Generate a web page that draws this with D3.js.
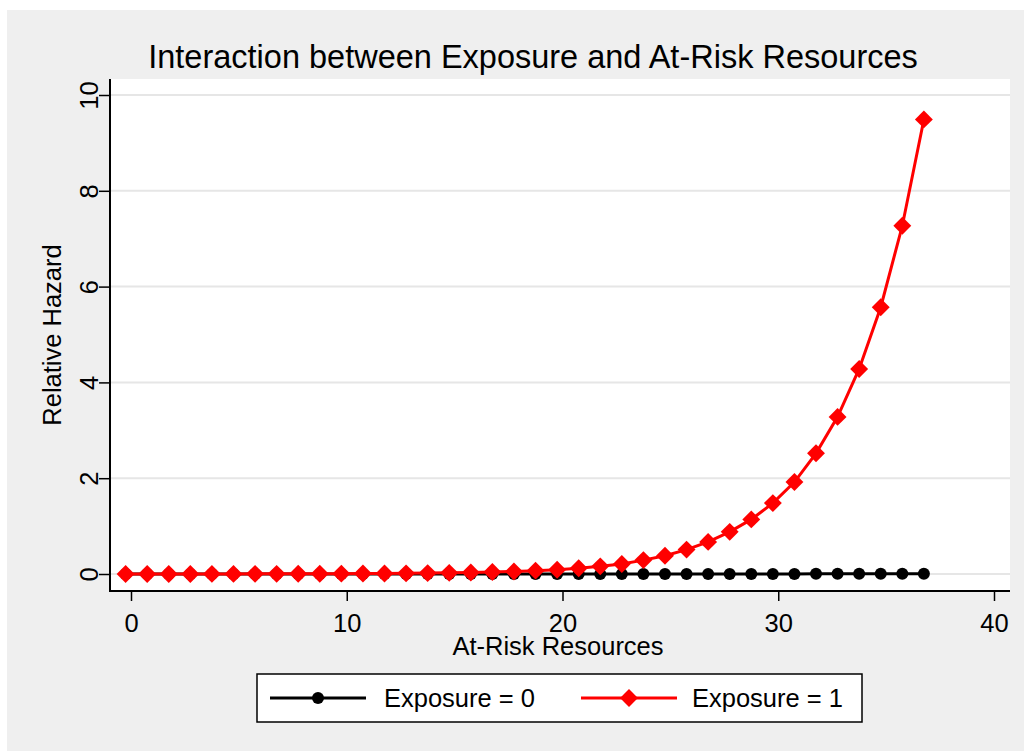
<!DOCTYPE html>
<html>
<head>
<meta charset="utf-8">
<script src="https://cdn.jsdelivr.net/npm/d3@7"></script>
<style>
  body { margin: 0; background: #fff; }
  text { font-family: "Liberation Sans", Arial, sans-serif; fill: #000; }
</style>
</head>
<body>
<svg width="1024" height="751"></svg>
<script>
// values
const resources = [-0.25, 0.75, 1.75, 2.75, 3.75, 4.75, 5.75, 6.75, 7.75, 8.75,
  9.75, 10.75, 11.75, 12.75, 13.75, 14.75, 15.75, 16.75, 17.75, 18.75,
  19.75, 20.75, 21.75, 22.75, 23.75, 24.75, 25.75, 26.75, 27.75, 28.75,
  29.75, 30.75, 31.75, 32.75, 33.75, 34.75, 35.75, 36.75];
const hazardExp0 = [0, 0, 0, 0, 0, 0, 0, 0, 0, 0,
  0, 0, 0, 0, 0, 0, 0, 0, 0, 0,
  0, 0, 0, 0, 0, 0, 0, 0, 0, 0,
  0, 0, 0.005, 0.005, 0.005, 0.005, 0.005, 0.005];
const hazardExp1 = [0.001, 0.001, 0.001, 0.001, 0.002, 0.002, 0.003, 0.003, 0.004, 0.005,
  0.007, 0.009, 0.011, 0.014, 0.019, 0.024, 0.031, 0.041, 0.053, 0.07,
  0.09, 0.12, 0.16, 0.21, 0.29, 0.38, 0.51, 0.67, 0.88, 1.14,
  1.48, 1.92, 2.52, 3.28, 4.28, 5.57, 7.27, 9.49];
const yTicks = [0, 2, 4, 6, 8, 10];
const xTicks = [0, 10, 20, 30, 40];
const seriesNames = ['Exposure = 0', 'Exposure = 1'];

const svg = d3.select('svg');

// grey graph region
svg.append('rect')
    .attr('x', 7).attr('y', 10)
    .attr('width', 1017).attr('height', 741)
    .attr('fill', '#efefef');

// plot region
const plot = { left: 110, right: 1010, top: 79, bottom: 591 };
svg.append('rect')
    .attr('x', plot.left).attr('y', plot.top)
    .attr('width', plot.right - plot.left).attr('height', plot.bottom - plot.top)
    .attr('fill', '#fff');

const x = d3.scaleLinear().domain([0, 40]).range([131, 994]);
const y = d3.scaleLinear().domain([0, 10]).range([574, 95]);

// gridlines
svg.append('g').selectAll('line')
    .data(yTicks).join('line')
    .attr('x1', plot.left).attr('x2', plot.right)
    .attr('y1', d => y(d)).attr('y2', d => y(d))
    .attr('stroke', '#e6e6e6').attr('stroke-width', 2);

// axes
const yAxis = svg.append('g')
    .attr('transform', `translate(${plot.left},0)`)
    .call(d3.axisLeft(y).tickValues(yTicks).tickSize(11));
yAxis.select('.domain').remove();
yAxis.selectAll('line').attr('stroke', '#000').attr('stroke-width', 1.5);
yAxis.selectAll('text')
    .attr('font-size', 25.5)
    .attr('x', 0).attr('y', 0).attr('dy', 0)
    .attr('text-anchor', 'middle')
    .attr('transform', 'translate(-12,0) rotate(-90)');

const xAxis = svg.append('g')
    .attr('transform', `translate(0,${plot.bottom})`)
    .call(d3.axisBottom(x).tickValues(xTicks).tickSize(10));
xAxis.select('.domain').remove();
xAxis.selectAll('line').attr('stroke', '#000').attr('stroke-width', 1.5);
xAxis.selectAll('text').attr('font-size', 25.5).attr('y', 41).attr('dy', 0);

svg.append('line')
    .attr('x1', plot.left).attr('x2', plot.left)
    .attr('y1', plot.top).attr('y2', plot.bottom + 1)
    .attr('stroke', '#000').attr('stroke-width', 2);
svg.append('line')
    .attr('x1', plot.left - 1).attr('x2', plot.right)
    .attr('y1', plot.bottom).attr('y2', plot.bottom)
    .attr('stroke', '#000').attr('stroke-width', 2);

// series
const line = d3.line().x(d => x(d[0])).y(d => y(d[1]));
const data0 = resources.map((r, i) => [r, hazardExp0[i]]);
const data1 = resources.map((r, i) => [r, hazardExp1[i]]);

svg.append('path').datum(data0)
    .attr('d', line).attr('fill', 'none')
    .attr('stroke', '#000').attr('stroke-width', 3);
svg.append('g').selectAll('circle')
    .data(data0).join('circle')
    .attr('cx', d => x(d[0])).attr('cy', d => y(d[1]))
    .attr('r', 6).attr('fill', '#000');

const diamond = d3.symbol().type(d3.symbolSquare).size(160);
svg.append('path').datum(data1)
    .attr('d', line).attr('fill', 'none')
    .attr('stroke', '#ff0000').attr('stroke-width', 3);
svg.append('g').selectAll('path')
    .data(data1).join('path')
    .attr('d', diamond)
    .attr('transform', d => `translate(${x(d[0])},${y(d[1])}) rotate(45)`)
    .attr('fill', '#ff0000');

// titles
svg.append('text')
    .attr('x', 533).attr('y', 68)
    .attr('text-anchor', 'middle').attr('font-size', 32.5)
    .text('Interaction between Exposure and At-Risk Resources');
svg.append('text')
    .attr('x', 558).attr('y', 655)
    .attr('text-anchor', 'middle').attr('font-size', 25.5)
    .text('At-Risk Resources');
svg.append('text')
    .attr('transform', 'translate(61,335) rotate(-90)')
    .attr('text-anchor', 'middle').attr('font-size', 25.5)
    .text('Relative Hazard');

// legend
const legend = svg.append('g');
legend.append('rect')
    .attr('x', 257).attr('y', 674).attr('width', 605).attr('height', 48)
    .attr('fill', '#fff').attr('stroke', '#000').attr('stroke-width', 1.5);
const legX = [270, 581];
legX.forEach((lx, i) => {
  const col = i === 0 ? '#000' : '#ff0000';
  legend.append('line')
      .attr('x1', lx).attr('x2', lx + 96).attr('y1', 698).attr('y2', 698)
      .attr('stroke', col).attr('stroke-width', 3);
  if (i === 0) {
    legend.append('circle').attr('cx', lx + 48).attr('cy', 698).attr('r', 6).attr('fill', col);
  } else {
    legend.append('path').attr('d', diamond)
        .attr('transform', `translate(${lx + 48},698) rotate(45)`).attr('fill', col);
  }
  legend.append('text')
      .attr('x', i === 0 ? 384 : 692).attr('y', 707)
      .attr('font-size', 25.5)
      .text(seriesNames[i]);
});
</script>
</body>
</html>
